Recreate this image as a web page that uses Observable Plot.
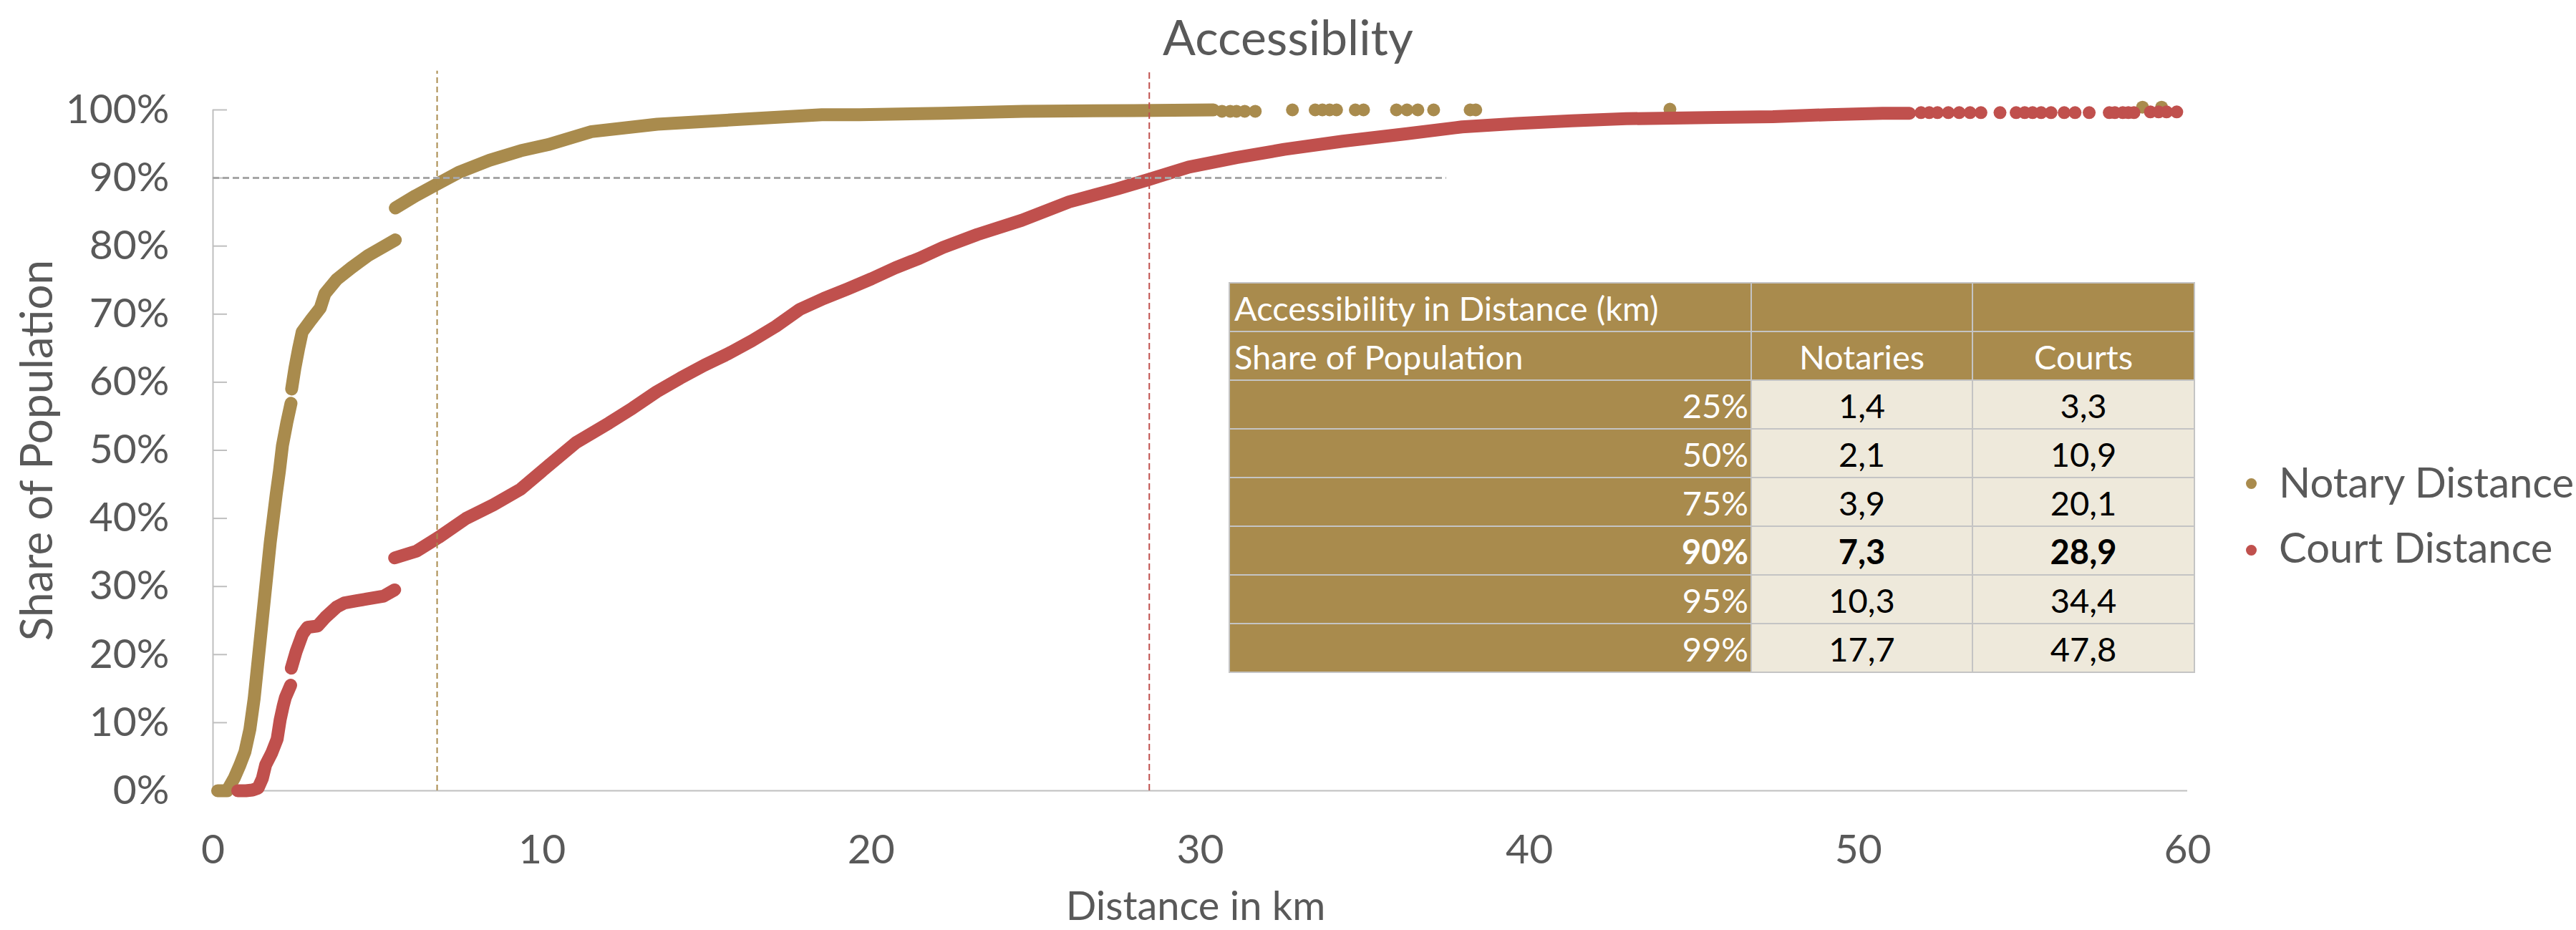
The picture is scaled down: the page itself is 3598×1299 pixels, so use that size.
<!DOCTYPE html>
<html><head><meta charset="utf-8">
<script src="https://cdn.jsdelivr.net/npm/d3@7"></script>
<script src="https://cdn.jsdelivr.net/npm/@observablehq/plot@0.6"></script>
<style>
html,body{margin:0;padding:0;background:#fff;overflow:hidden;}
#wrap{position:relative;width:3598px;height:1299px;font-family:Lato,sans-serif;color:#595959;overflow:hidden;}
#wrap svg{position:absolute;left:0;top:0;}
.abs{position:absolute;white-space:nowrap;}
#title{left:0;top:10px;width:3598px;text-align:center;font-size:68px;line-height:82px;}
#xlab{left:1270px;top:1236px;width:800px;text-align:center;font-size:56px;line-height:56px;}
#ylab{left:-301px;top:592px;width:700px;height:74px;text-align:center;font-size:62px;line-height:74px;transform:rotate(-90deg);}
.leg{left:3183px;font-size:58px;line-height:70px;}
.legdot{width:15px;height:15px;border-radius:50%;left:3137px;}
#tbl{position:absolute;left:1716px;top:394px;width:1348px;border-collapse:collapse;table-layout:fixed;font-family:Lato,sans-serif;font-size:47px;}
#tbl td{height:62px;border:2px solid #C4C4C4;padding:0 6px 4px 6px;vertical-align:bottom;line-height:56px;white-space:nowrap;overflow:hidden;}
#tbl td.g{background:#A98B4D;color:#fff;}
#tbl td.l{background:#EEE9DB;color:#000;text-align:center;}
#tbl td.r{text-align:right;padding-right:3px;}
#tbl td.c{text-align:center;}
#tbl tr.b td{font-weight:bold;}
</style></head><body><div id="wrap"></div>
<script>
const GOLD = "#A98B4D", RED = "#C0504D", AXIS = "#BFBFBF";

// Axis ticks
const xTicks = [0, 10, 20, 30, 40, 50, 60];
const yTicks = [0, 10, 20, 30, 40, 50, 60, 70, 80, 90, 100];

// Notary distance (km, share of population %)
const notaryLow = [[0.14,0],[0.43,0],[0.65,1.9],[0.82,3.8],[0.97,5.7],[1.12,9.0],[1.25,13.5],[1.40,20.5],[1.57,28.5],[1.74,36.5],[1.92,43.5],[2.02,47.0],[2.11,50.7],[2.24,54.0],[2.37,56.9]];
const notaryElbow = [[2.39,59.0],[2.49,62.1],[2.60,64.9],[2.71,67.4],[2.97,69.1],[3.26,70.9],[3.40,73.0],[3.76,75.1],[4.20,76.8],[4.71,78.6],[5.07,79.6],[5.54,80.9]];
const notaryHigh = [[5.54,85.6],[6.16,87.4],[6.81,89.1],[7.46,90.8],[8.4,92.6],[9.35,94.0],[10.18,94.9],[11.5,96.8],[13.5,97.9],[16.0,98.6],[18.5,99.3],[19.64,99.3],[22.15,99.5],[24.64,99.8],[27.97,99.9],[30.4,100]];
const notarySparse = [[30.66,99.8],[30.91,99.8],[31.1,99.8],[31.35,99.8],[31.67,99.8],[32.8,100],[33.49,100],[33.71,100],[33.93,100],[34.14,100],[34.71,100],[34.96,100],[35.96,100],[36.28,100],[36.61,100],[37.09,100],[38.2,100],[38.37,100],[44.27,100.1],[58.63,100.4],[59.21,100.4]];

// Court distance (km, share of population %)
const courtLow = [[0.75,0],[1.0,0],[1.2,0.1],[1.37,0.4],[1.50,1.8],[1.60,3.8],[1.78,5.5],[1.95,7.6],[2.04,10.4],[2.13,12.4],[2.2,13.7],[2.36,15.5]];
const courtMid = [[2.38,18.0],[2.53,20.5],[2.72,23.0],[2.87,24.0],[3.18,24.2],[3.42,25.5],[3.76,27.0],[4.0,27.6],[4.36,27.9],[5.19,28.6],[5.52,29.5]];
const courtHigh = [[5.52,34.2],[6.19,35.2],[6.85,37.2],[7.69,40.0],[8.52,42.0],[9.35,44.3],[10.18,47.7],[11.02,51.1],[12.03,54.0],[12.75,56.2],[13.48,58.6],[14.2,60.6],[14.93,62.5],[15.66,64.2],[16.38,66.1],[17.1,68.2],[17.83,70.7],[18.56,72.3],[19.28,73.7],[20.01,75.2],[20.73,76.8],[21.46,78.2],[22.18,79.8],[23.23,81.7],[24.58,83.8],[26.02,86.5],[27.47,88.4],[28.45,89.8],[29.65,91.6],[31.1,93.0],[32.55,94.2],[34.33,95.4],[36.28,96.5],[37.95,97.5],[39.61,98.0],[41.28,98.4],[42.94,98.7],[45.75,98.9],[47.4,99.0],[49.08,99.3],[50.73,99.5],[51.55,99.5]];
const courtSparse = [[51.9,99.6],[52.15,99.6],[52.4,99.6],[52.73,99.6],[53.06,99.6],[53.39,99.6],[53.72,99.6],[54.3,99.6],[54.79,99.6],[55.05,99.6],[55.29,99.6],[55.55,99.6],[55.85,99.6],[56.25,99.6],[56.58,99.6],[57.01,99.6],[57.62,99.6],[57.79,99.6],[58.03,99.6],[58.2,99.6],[58.37,99.6],[58.87,99.7],[59.12,99.7],[59.36,99.7],[59.67,99.7]];

// Reference lines
const refH = [{y: 90, x1: 0, x2: 37.48}];
const refNotary = [{x: 6.81, y1: 0, y2: 105.7}];
const refCourt = [{x: 28.45, y1: 0, y2: 105.7}];

// Summary table
const tableTitle = "Accessibility in Distance (km)";
const tableHeader = ["Share of Population", "Notaries", "Courts"];
const shares = ["25%", "50%", "75%", "90%", "95%", "99%"];
const notaries = [1.4, 2.1, 3.9, 7.3, 10.3, 17.7];
const courts = [3.3, 10.9, 20.1, 28.9, 34.4, 47.8];
const boldShare = "90%";

const seriesNames = ["Notary Distance", "Court Distance"];

const W = 3598, H = 1299, ML = 297, MR = 543, MT = 153, MB = 195;
const innerW = W - ML - MR;

const toRows = (pts, id) => pts.map(([x, y]) => ({x, y, id}));
const notaryDense = [...toRows(notaryLow, "n1"), ...toRows(notaryElbow, "n2"), ...toRows(notaryHigh, "n3")];
const courtDense = [...toRows(courtLow, "c1"), ...toRows(courtMid, "c2"), ...toRows(courtHigh, "c3")];
const lineStyle = {x: "x", y: "y", z: "id", strokeWidth: 18, strokeLinecap: "round", strokeLinejoin: "round", curve: "linear"};

const chart = Plot.plot({
  width: W, height: H,
  marginLeft: ML, marginRight: MR, marginTop: MT, marginBottom: MB,
  style: {fontFamily: "Lato, sans-serif", fontSize: "57px", color: "#595959", background: "transparent", overflow: "visible"},
  x: {domain: [0, 60], ticks: xTicks, tickFormat: d => String(d), tickSize: 0, tickPadding: 61, label: null},
  y: {domain: [0, 100], ticks: yTicks, tickFormat: d => d + "%", tickSize: 0, tickPadding: 61, label: null},
  marks: [
    Plot.ruleY([0], {stroke: AXIS, strokeWidth: 2}),
    Plot.ruleX([0], {y1: 0, y2: 100, stroke: AXIS, strokeWidth: 2}),
    Plot.ruleY(yTicks, {stroke: AXIS, strokeWidth: 2, insetRight: innerW - 20}),
    Plot.line(notaryDense, {...lineStyle, stroke: GOLD}),
    Plot.dot(notarySparse, {x: d => d[0], y: d => d[1], r: 9, fill: GOLD, stroke: null}),
    Plot.line(courtDense, {...lineStyle, stroke: RED}),
    Plot.dot(courtSparse, {x: d => d[0], y: d => d[1], r: 9, fill: RED, stroke: null}),
    Plot.ruleY(refH, {y: "y", x1: "x1", x2: "x2", stroke: "#A6A6A6", strokeWidth: 3, strokeDasharray: "9,5"}),
    Plot.ruleX(refNotary, {x: "x", y1: "y1", y2: "y2", stroke: GOLD, strokeWidth: 2, strokeDasharray: "8,5"}),
    Plot.ruleX(refCourt, {x: "x", y1: "y1", y2: "y2", stroke: RED, strokeWidth: 2, strokeDasharray: "9,5"})
  ]
});

const wrap = document.getElementById("wrap");
wrap.appendChild(chart);

function addDiv(id, cls, text, style) {
  const d = document.createElement("div");
  if (id) d.id = id;
  d.className = "abs " + (cls || "");
  d.textContent = text;
  if (style) Object.assign(d.style, style);
  wrap.appendChild(d);
  return d;
}
addDiv("title", "", "Accessiblity");
addDiv("xlab", "", "Distance in km");
addDiv("ylab", "", "Share of Population");
addDiv(null, "legdot", "", {top: (675 - 7.5) + "px", background: GOLD});
addDiv(null, "leg", seriesNames[0], {top: "638px"});
addDiv(null, "legdot", "", {top: (768 - 7.5) + "px", background: RED});
addDiv(null, "leg", seriesNames[1], {top: "729px"});

// table
const fmt = v => v.toFixed(1).replace(".", ",");
const tbl = document.createElement("table");
tbl.id = "tbl";
const cg = document.createElement("colgroup");
[729, 309, 310].forEach(w => { const c = document.createElement("col"); c.style.width = w + "px"; cg.appendChild(c); });
tbl.appendChild(cg);
function addRow(cells, cls) {
  const tr = document.createElement("tr");
  if (cls) tr.className = cls;
  cells.forEach(([t, c]) => { const td = document.createElement("td"); td.className = c; td.textContent = t; tr.appendChild(td); });
  tbl.appendChild(tr);
}
addRow([[tableTitle, "g"], ["", "g"], ["", "g"]]);
addRow([[tableHeader[0], "g"], [tableHeader[1], "g c"], [tableHeader[2], "g c"]]);
shares.forEach((s, i) => addRow([[s, "g r"], [fmt(notaries[i]), "l"], [fmt(courts[i]), "l"]], s === boldShare ? "b" : ""));
wrap.appendChild(tbl);
</script></body></html>
